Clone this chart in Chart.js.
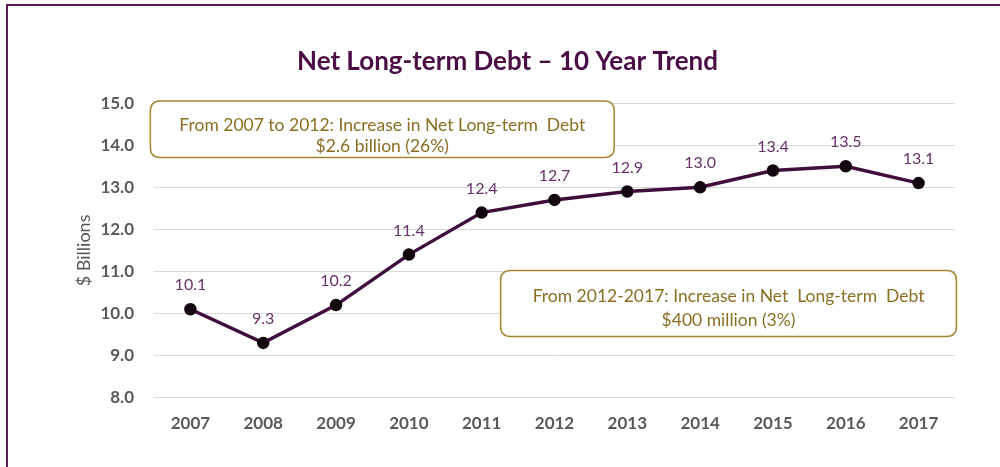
<!DOCTYPE html>
<html>
<head>
<meta charset="utf-8">
<script src="https://cdn.jsdelivr.net/npm/chart.js@4/dist/chart.umd.min.js"></script>
<style>
  html, body { margin: 0; padding: 0; background: #fff; }
  #wrap { position: relative; width: 1000px; height: 467px; }
  #frame { position: absolute; left: 6px; top: 4px; right: 0; bottom: 0;
           border-top: 2px solid #5a1f52; border-left: 2px solid #5a1f52; pointer-events: none; }
  canvas { position: absolute; left: 0; top: 0; }
</style>
</head>
<body>
<div id="wrap">
  <canvas id="c" width="1000" height="467"></canvas>
  <div id="frame"></div>
</div>
<script>
// Net long-term debt, $ billions, fiscal years 2007-2017
const years = ['2007','2008','2009','2010','2011','2012','2013','2014','2015','2016','2017'];
const debt = [10.1, 9.3, 10.2, 11.4, 12.4, 12.7, 12.9, 13.0, 13.4, 13.5, 13.1];
const yTicks = [8, 9, 10, 11, 12, 13, 14, 15];

const callout1 = ['From 2007 to 2012: Increase in Net Long-term  Debt', '$2.6 billion (26%)'];
const callout2 = ['From 2012-2017: Increase in Net  Long-term  Debt', '$400 million (3%)'];

const FONT = 'Lato, Carlito, Calibri, sans-serif';
const PURPLE = '#3f0e3c';
const GOLD_LINE = '#a38630';
const GOLD_TEXT = '#8a6e22';

// Value labels above each point
const valueLabels = {
  id: 'valueLabels',
  afterDatasetsDraw(chart) {
    const ctx = chart.ctx;
    const meta = chart.getDatasetMeta(0);
    ctx.save();
    ctx.font = '16px ' + FONT;
    ctx.fillStyle = '#67306a';
    ctx.textAlign = 'center';
    ctx.textBaseline = 'middle';
    meta.data.forEach((pt, i) => {
      ctx.fillText(debt[i].toFixed(1), pt.x, pt.y - 24);
    });
    ctx.restore();
  }
};

// Rounded text boxes anchored to the axes
function roundRect(ctx, x, y, w, h, r) {
  ctx.beginPath();
  ctx.moveTo(x + r, y);
  ctx.lineTo(x + w - r, y);
  ctx.quadraticCurveTo(x + w, y, x + w, y + r);
  ctx.lineTo(x + w, y + h - r);
  ctx.quadraticCurveTo(x + w, y + h, x + w - r, y + h);
  ctx.lineTo(x + r, y + h);
  ctx.quadraticCurveTo(x, y + h, x, y + h - r);
  ctx.lineTo(x, y + r);
  ctx.quadraticCurveTo(x, y, x + r, y);
  ctx.closePath();
}
const callouts = {
  id: 'callouts',
  afterDatasetsDraw(chart) {
    const xs = chart.scales.x, ys = chart.scales.y, ctx = chart.ctx;
    const boxes = [
      { lines: callout1, x0: -0.55, x1: 5.82, y0: 15.05, y1: 13.71, off: [24, 45] },
      { lines: callout2, x0: 4.26, x1: 10.52, y0: 11.02, y1: 9.45, off: [26, 50] }
    ];
    ctx.save();
    boxes.forEach(b => {
      const l = xs.getPixelForValue(b.x0), r = xs.getPixelForValue(b.x1);
      const t = ys.getPixelForValue(b.y0), btm = ys.getPixelForValue(b.y1);
      roundRect(ctx, l, t, r - l, btm - t, 10);
      ctx.fillStyle = '#fff';
      ctx.fill();
      ctx.lineWidth = 1.5;
      ctx.strokeStyle = GOLD_LINE;
      ctx.stroke();
      ctx.fillStyle = GOLD_TEXT;
      ctx.font = '17.5px ' + FONT;
      ctx.textAlign = 'center';
      ctx.textBaseline = 'middle';
      const cx = (l + r) / 2;
      ctx.fillText(b.lines[0], cx, t + b.off[0]);
      ctx.fillText(b.lines[1], cx, t + b.off[1]);
    });
    ctx.restore();
  }
};

new Chart(document.getElementById('c'), {
  type: 'line',
  data: {
    labels: years,
    datasets: [{
      data: debt,
      borderColor: PURPLE,
      borderWidth: 3.5,
      pointBackgroundColor: '#14060f',
      pointBorderColor: '#14060f',
      pointRadius: 4.5,
      pointHoverRadius: 4.5,
      tension: 0
    }]
  },
  options: {
    responsive: false,
    animation: false,
    layout: { padding: { left: 60, right: 45, top: 0, bottom: 17 } },
    plugins: {
      legend: { display: false },
      tooltip: { enabled: false },
      title: {
        display: true,
        text: 'Net Long-term Debt \u2013 10 Year Trend',
        color: '#4a0e45',
        font: { family: FONT, size: 26, weight: 'bold' },
        padding: { top: 46, bottom: 26 }
      }
    },
    scales: {
      x: {
        offset: true,
        grid: { display: false, drawTicks: false },
        border: { display: false },
        ticks: { color: '#595959', padding: 16, font: { family: FONT, size: 17, weight: 'bold' } }
      },
      y: {
        min: 8, max: 15,
        afterBuildTicks(scale) { scale.ticks = yTicks.map(v => ({ value: v })); },
        afterFit(scale) { scale.width = 94; },
        grid: { color: '#d9d9d9', lineWidth: 1, drawTicks: false },
        border: { display: false },
        ticks: {
          color: '#595959', padding: 20,
          font: { family: FONT, size: 17, weight: 'bold' },
          callback: v => Number(v).toFixed(1)
        },
        title: {
          display: true,
          text: '$ Billions',
          color: '#595959',
          font: { family: FONT, size: 18 },
          padding: { top: 13, bottom: 0 }
        }
      }
    }
  },
  plugins: [valueLabels, callouts]
});
</script>
</body>
</html>
